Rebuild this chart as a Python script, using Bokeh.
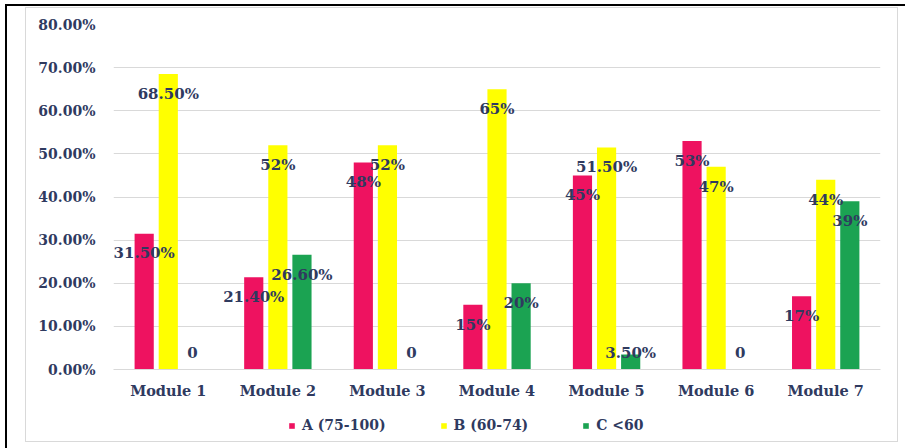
import numpy as np
from bokeh.plotting import figure
from bokeh.layouts import column
from bokeh.models import (ColumnDataSource, FactorRange, Range1d, Legend, LegendItem,
                          PrintfTickFormatter, FixedTicker)
from bokeh.transform import dodge
from bokeh.core.properties import value
from bokeh.embed import file_html
from bokeh.resources import INLINE

# ---- data -------------------------------------------------------------
modules = ["Module 1", "Module 2", "Module 3", "Module 4",
           "Module 5", "Module 6", "Module 7"]
grade_a = [31.5, 21.4, 48, 15, 45, 53, 17]        # A (75-100), percent
grade_b = [68.5, 52, 52, 65, 51.5, 47, 44]        # B (60-74), percent
grade_c = [0, 26.6, 0, 20, 3.5, 0, 39]            # C <60, percent
series_names = ["A (75-100)", "B (60-74)", "C <60"]
y_ticks = [0, 10, 20, 30, 40, 50, 60, 70, 80]

# ---- styling ----------------------------------------------------------
FONT = "DejaVu Serif"
NAVY = "#2F3A5F"
GRID = "#D9D9D9"
COLORS = ["#EE1260", "#FFFF00", "#1BA352"]
OFFSETS = [-0.22, 0.0, 0.22]
BAR_W = 0.175


def pct_label(v):
    if v == 0:
        return "0"
    if float(v).is_integer():
        return "%d%%" % v
    return "%.2f%%" % v


# ---- main chart -------------------------------------------------------
p = figure(width=905, height=402, frame_width=767, frame_height=345,
           output_backend="svg", toolbar_location=None,
           x_range=FactorRange(*modules, range_padding=0),
           y_range=Range1d(0, 80),
           min_border_left=113, min_border_right=25,
           min_border_top=24, min_border_bottom=33)
p.background_fill_color = "white"
p.border_fill_color = None
p.outline_line_color = None

sources = []
for vals, off, color in zip([grade_a, grade_b, grade_c], OFFSETS, COLORS):
    arr = np.array(vals, dtype=float)
    src = ColumnDataSource(dict(
        module=modules,
        value=arr,
        label=[pct_label(v) for v in vals],
        label_y=np.maximum(arr - 4.6, 3.9),
    ))
    sources.append((src, off))
    p.vbar(x=dodge("module", off, range=p.x_range), top="value", width=BAR_W,
           source=src, fill_color=color, line_color=None)

# value labels drawn after all bars so they sit on top
for src, off in sources:
    p.text(x=dodge("module", off, range=p.x_range), y="label_y", text="label",
           source=src, text_align="center", text_baseline="middle",
           text_font=value(FONT), text_font_style="bold",
           text_font_size="15px", text_color=NAVY)

p.yaxis.ticker = FixedTicker(ticks=y_ticks)
p.yaxis.formatter = PrintfTickFormatter(format="%.2f%%")
p.yaxis.axis_line_color = None
p.yaxis.major_tick_line_color = None
p.yaxis.minor_tick_line_color = None
p.yaxis.major_label_standoff = 12
p.yaxis.major_label_text_font = FONT
p.yaxis.major_label_text_font_style = "bold"
p.yaxis.major_label_text_font_size = "14px"
p.yaxis.major_label_text_color = NAVY

p.xaxis.axis_line_color = GRID
p.xaxis.major_tick_line_color = None
p.xaxis.minor_tick_line_color = None
p.xaxis.major_label_standoff = 6
p.xaxis.major_label_text_font = FONT
p.xaxis.major_label_text_font_style = "bold"
p.xaxis.major_label_text_font_size = "14.5px"
p.xaxis.major_label_text_color = NAVY

p.xgrid.grid_line_color = None
p.ygrid.grid_line_color = GRID
p.ygrid.grid_line_width = 1

# ---- legend strip underneath -----------------------------------------
leg_fig = figure(width=905, height=46, output_backend="svg", toolbar_location=None,
                 x_range=Range1d(0, 1), y_range=Range1d(0, 1),
                 x_axis_location=None, y_axis_location=None, min_border=0)
leg_fig.background_fill_color = None
leg_fig.border_fill_color = None
leg_fig.outline_line_color = None
leg_fig.xgrid.visible = False
leg_fig.ygrid.visible = False

# zero-size key renderers: they only supply the colour swatches of the legend
key_src = ColumnDataSource(dict(x=[0], top=[0]))
swatches = [leg_fig.vbar(x="x", top="top", width=0, source=key_src,
                         fill_color=c, line_color=None)
            for c in COLORS]
legend = Legend(
    items=[LegendItem(label=n, renderers=[r]) for n, r in zip(series_names, swatches)],
    orientation="horizontal", location="center_left",
    padding=0, margin=175, spacing=54, label_standoff=7,
    glyph_width=7, glyph_height=7, label_height=16,
    label_text_font=FONT, label_text_font_style="bold",
    label_text_font_size="14px", label_text_color=NAVY,
    background_fill_alpha=0, border_line_color=None)
leg_fig.add_layout(legend, "center")

# page frame (black rules top/left) and light chart-area border, painted
# behind the transparent canvases
rules = [
    ("black", 5, 4, 900, 2),
    ("black", 5, 4, 2, 444),
    (GRID, 25, 7, 872, 1),
    (GRID, 25, 441, 872, 1),
    (GRID, 25, 7, 1, 434),
    (GRID, 897, 7, 1, 435),
]
bg = ", ".join("linear-gradient(%s, %s) %dpx %dpx / %dpx %dpx no-repeat" % (c, c, x, y, w, h)
               for c, x, y, w, h in rules)
page = column(p, leg_fig, spacing=0, styles={"background": bg + ", white"})

open("out.html", "w").write(file_html(page, INLINE))
